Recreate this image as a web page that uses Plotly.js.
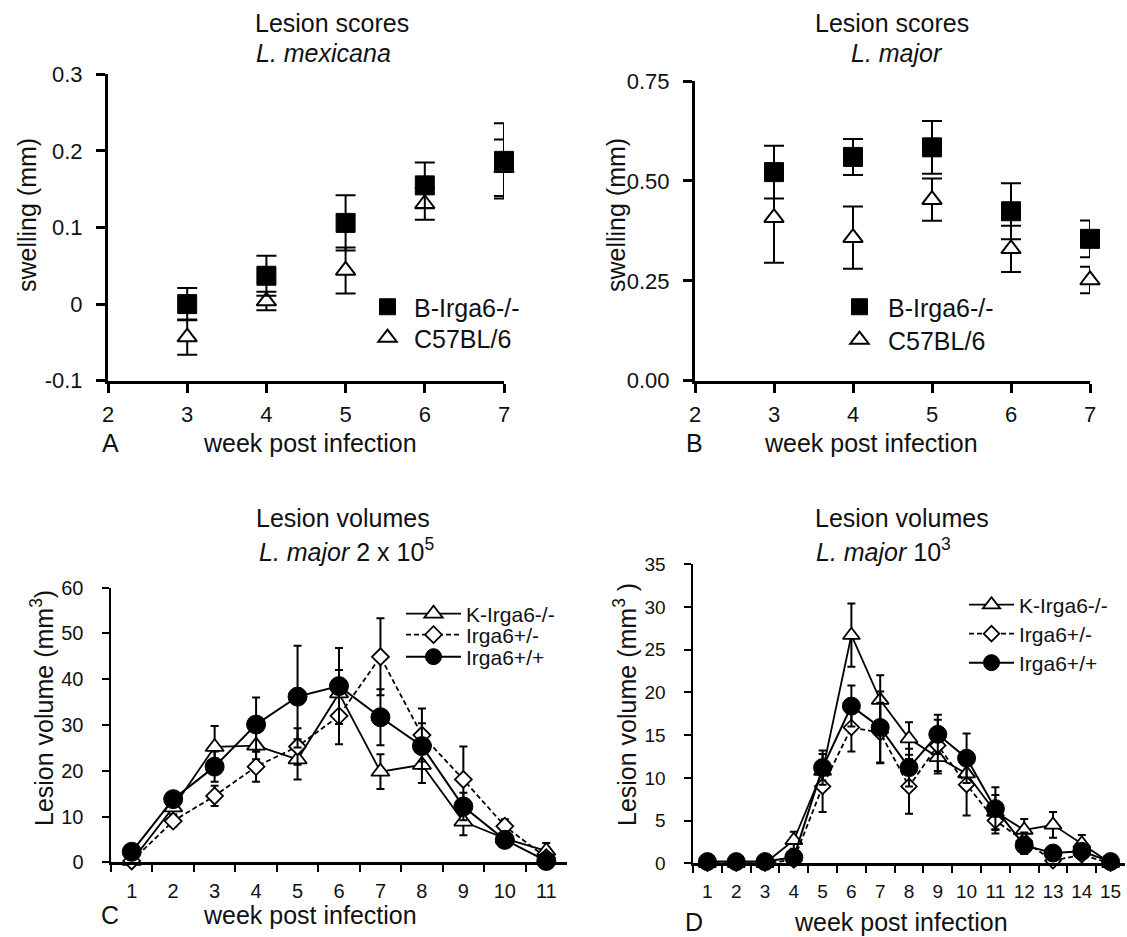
<!DOCTYPE html>
<html><head><meta charset="utf-8">
<script src="https://cdn.plot.ly/plotly-3.0.1.min.js"></script>
<style>html,body{margin:0;padding:0;background:#fff;}#chart{width:1127px;height:937px;}</style>
</head><body><div id="chart"></div>
<script>
// ---------- data ----------
const weeksAB = [3, 4, 5, 6, 7];
const mexKO = [0.000, 0.037, 0.106, 0.155, 0.187];
const mexKOerr = [0.021, 0.026, 0.036, 0.030, 0.049];
const mexWT = [-0.043, 0.004, 0.044, 0.131, 0.178];
const mexWTerr = [0.023, 0.012, 0.030, 0.021, 0.037];

const majKO = [0.522, 0.560, 0.584, 0.424, 0.355];
const majKOerr = [0.066, 0.045, 0.066, 0.070, 0.046];
const majWT = [0.408, 0.358, 0.453, 0.330, 0.252];
const majWTerr = [0.113, 0.078, 0.053, 0.058, 0.033];

const weeksC = [1, 2, 3, 4, 5, 6, 7, 8, 9, 10, 11];
const cKO = [0.3, 12.0, 25.2, 25.5, 22.5, 36.9, 19.8, 21.3, 8.9, 5.2, 2.5];
const cKOerr = [0.5, 1.5, 4.6, 3.0, 4.4, 5.1, 3.8, 4.0, 3.0, 1.2, 1.7];
const cHet = [0.3, 9.0, 14.5, 20.9, 25.3, 32.0, 44.9, 27.8, 18.1, 7.9, 1.0];
const cHetErr = [0.3, 1.2, 2.2, 3.3, 4.0, 6.2, 8.4, 5.8, 7.2, 1.5, 1.0];
const cWT = [2.3, 13.8, 20.9, 30.1, 36.2, 38.5, 31.7, 25.4, 12.2, 4.9, 0.3];
const cWTerr = [0.5, 1.0, 3.3, 5.9, 11.1, 8.3, 6.1, 5.0, 3.0, 1.5, 0.5];

const weeksD = [1, 2, 3, 4, 5, 6, 7, 8, 9, 10, 11, 12, 13, 14, 15];
const dKO = [0, 0, 0, 2.7, 10.8, 26.7, 19.1, 14.6, 12.4, 10.5, 6.0, 3.9, 4.5, 2.3, 0];
const dKOerr = [0, 0, 0, 1.0, 2.0, 3.7, 2.9, 1.9, 1.9, 1.5, 2.0, 1.3, 1.5, 1.0, 0];
const dHet = [0, 0, 0, 0.4, 9.0, 15.9, 15.3, 9.0, 13.8, 9.2, 5.0, 2.6, 0.3, 1.0, 0];
const dHetErr = [0, 0, 0, 0.3, 3.0, 2.8, 3.5, 3.2, 3.0, 3.6, 1.5, 1.0, 0.3, 0.5, 0];
const dWT = [0.2, 0.2, 0.2, 0.7, 11.2, 18.4, 15.9, 11.2, 15.1, 12.3, 6.4, 2.1, 1.2, 1.4, 0.2];
const dWTerr = [0.1, 0.1, 0.1, 0.3, 2.0, 2.4, 4.2, 2.2, 2.3, 2.9, 2.5, 1.0, 0.5, 0.6, 0.1];

const ytickA = [-0.1, 0, 0.1, 0.2, 0.3];
const ytickAtext = ['-0.1', '0', '0.1', '0.2', '0.3'];
const ytickB = [0, 0.25, 0.5, 0.75];
const ytickBtext = ['0.00', '0.25', '0.50', '0.75'];
const xtickAB = [2, 3, 4, 5, 6, 7];

// ---------- helpers ----------
const W = 1127, H = 937;
const FX = v => v / W;
const FY = v => 1 - v / H;
const FONT = 'Liberation Sans, Arial, Helvetica, sans-serif';
const INK = '#111';

function errBar(arr, w, th) {
  return {type: 'data', array: arr, visible: true, color: '#000', thickness: th, width: w};
}

const traces = [
  // Panel A
  {x: weeksAB, y: mexWT, error_y: errBar(mexWTerr, 10, 2), mode: 'markers', name: 'C57BL/6',
   marker: {symbol: 'triangle-up', size: 17, color: '#fff', line: {color: '#000', width: 2}},
   xaxis: 'x', yaxis: 'y', legend: 'legend2', cliponaxis: false},
  {x: weeksAB, y: mexKO, error_y: errBar(mexKOerr, 10, 2), mode: 'markers', name: 'B-Irga6-/-',
   marker: {symbol: 'square', size: 19, color: '#000', line: {color: '#000', width: 1}},
   xaxis: 'x', yaxis: 'y', legend: 'legend', cliponaxis: false},
  // Panel B
  {x: weeksAB, y: majWT, error_y: errBar(majWTerr, 10, 2), mode: 'markers', name: 'C57BL/6',
   marker: {symbol: 'triangle-up', size: 17, color: '#fff', line: {color: '#000', width: 2}},
   xaxis: 'x2', yaxis: 'y2', legend: 'legend4', cliponaxis: false},
  {x: weeksAB, y: majKO, error_y: errBar(majKOerr, 10, 2), mode: 'markers', name: 'B-Irga6-/-',
   marker: {symbol: 'square', size: 19, color: '#000', line: {color: '#000', width: 1}},
   xaxis: 'x2', yaxis: 'y2', legend: 'legend3', cliponaxis: false},
  // Panel C
  {x: weeksC, y: cKO, error_y: errBar(cKOerr, 4, 2), mode: 'lines+markers', name: 'K-Irga6-/-',
   line: {color: '#000', width: 1.8},
   marker: {symbol: 'triangle-up', size: 16, color: '#fff', line: {color: '#000', width: 1.8}},
   xaxis: 'x3', yaxis: 'y3', legend: 'legend5', cliponaxis: false},
  {x: weeksC, y: cHet, error_y: errBar(cHetErr, 4, 2), mode: 'lines+markers', name: 'Irga6+/-',
   line: {color: '#000', width: 1.8, dash: '5px,3px'},
   marker: {symbol: 'diamond', size: 13, color: '#fff', line: {color: '#000', width: 1.8}},
   xaxis: 'x3', yaxis: 'y3', legend: 'legend6', cliponaxis: false},
  {x: weeksC, y: cWT, error_y: errBar(cWTerr, 4, 2), mode: 'lines+markers', name: 'Irga6+/+',
   line: {color: '#000', width: 2},
   marker: {symbol: 'circle', size: 19, color: '#000', line: {color: '#000', width: 1}},
   xaxis: 'x3', yaxis: 'y3', legend: 'legend7', cliponaxis: false},
  // Panel D
  {x: weeksD, y: dKO, error_y: errBar(dKOerr, 4, 2), mode: 'lines+markers', name: 'K-Irga6-/-',
   line: {color: '#000', width: 1.8},
   marker: {symbol: 'triangle-up', size: 15, color: '#fff', line: {color: '#000', width: 1.8}},
   xaxis: 'x4', yaxis: 'y4', legend: 'legend8', cliponaxis: false},
  {x: weeksD, y: dHet, error_y: errBar(dHetErr, 4, 2), mode: 'lines+markers', name: 'Irga6+/-',
   line: {color: '#000', width: 1.8, dash: '5px,3px'},
   marker: {symbol: 'diamond', size: 12, color: '#fff', line: {color: '#000', width: 1.8}},
   xaxis: 'x4', yaxis: 'y4', legend: 'legend9', cliponaxis: false},
  {x: weeksD, y: dWT, error_y: errBar(dWTerr, 4, 2), mode: 'lines+markers', name: 'Irga6+/+',
   line: {color: '#000', width: 2},
   marker: {symbol: 'circle', size: 18, color: '#000', line: {color: '#000', width: 1}},
   xaxis: 'x4', yaxis: 'y4', legend: 'legend10', cliponaxis: false}
];

function axisBase(fs, lw, tw, tl) {
  return {showline: true, linecolor: '#000', linewidth: lw, ticks: 'outside', tickcolor: '#000',
    tickwidth: tw, ticklen: tl, showgrid: false, zeroline: false, fixedrange: true,
    tickangle: 0, tickfont: {family: FONT, size: fs, color: INK}};
}

function leg(left, cy, iw, fs) {
  return {x: FX(left), y: FY(cy), xanchor: 'left', yanchor: 'middle', bgcolor: 'rgba(0,0,0,0)',
    borderwidth: 0, itemwidth: iw, font: {family: FONT, size: fs, color: INK}, itemclick: false};
}

function ann(text, cx, cy, fs, extra) {
  return Object.assign({text: text, x: FX(cx), y: FY(cy), xref: 'paper', yref: 'paper',
    xanchor: 'center', yanchor: 'middle', showarrow: false,
    font: {family: FONT, size: fs, color: INK}}, extra || {});
}

const layout = {
  width: W, height: H, margin: {l: 0, r: 0, t: 0, b: 0},
  paper_bgcolor: '#fff', plot_bgcolor: '#fff', showlegend: true,
  xaxis: Object.assign(axisBase(22, 3, 3, 9), {domain: [FX(108), FX(504)], range: [2, 7],
    tickvals: xtickAB, anchor: 'y', ticklabelstandoff: 3}),
  yaxis: Object.assign(axisBase(22, 3, 3, 9), {domain: [FY(380.7), FY(74.3)], range: [-0.1, 0.3],
    tickvals: ytickA, ticktext: ytickAtext, anchor: 'x', ticklabelstandoff: 9}),
  xaxis2: Object.assign(axisBase(22, 3, 3, 9), {domain: [FX(695), FX(1090)], range: [2, 7],
    tickvals: xtickAB, anchor: 'y2', ticklabelstandoff: 3}),
  yaxis2: Object.assign(axisBase(22, 3, 3, 9), {domain: [FY(380.7), FY(81)], range: [0, 0.75],
    tickvals: ytickB, ticktext: ytickBtext, anchor: 'x2', ticklabelstandoff: 9}),
  xaxis3: Object.assign(axisBase(20, 2.5, 2, 7), {domain: [FX(111), FX(567)], type: 'category',
    range: [-0.5, 10.5], tickson: 'boundaries', anchor: 'y3', ticklabelstandoff: 9}),
  yaxis3: Object.assign(axisBase(20, 2.5, 2, 7), {domain: [FY(862.3), FY(587.7)], range: [0, 60],
    dtick: 10, tick0: 0, anchor: 'x3', ticklabelstandoff: 14}),
  xaxis4: Object.assign(axisBase(19, 2.5, 2, 7), {domain: [FX(693), FX(1125)], type: 'category',
    range: [-0.5, 14.5], tickson: 'boundaries', anchor: 'y4', ticklabelstandoff: 9}),
  yaxis4: Object.assign(axisBase(19, 2.5, 2, 7), {domain: [FY(863.3), FY(564.3)], range: [0, 35],
    dtick: 5, tick0: 0, anchor: 'x4', ticklabelstandoff: 14}),
  legend: leg(361, 307, 43, 25),
  legend2: leg(361, 338, 43, 25),
  legend3: leg(831, 307, 47, 25),
  legend4: leg(831, 340, 47, 25),
  legend5: leg(401, 614, 55, 21),
  legend6: leg(401, 635, 55, 21),
  legend7: leg(401, 657, 55, 21),
  legend8: leg(964, 605, 45, 21),
  legend9: leg(964, 634, 45, 21),
  legend10: leg(964, 663, 45, 21),
  annotations: [
    ann('Lesion scores', 332, 23, 25),
    ann('<i>L. mexicana</i>', 323, 53, 25),
    ann('Lesion scores', 892, 23, 25),
    ann('<i>L. major</i>', 897, 53, 25),
    ann('Lesion volumes', 343, 518, 25),
    ann('<i>L. major</i> 2 x 10<sup>5</sup>', 346, 550, 25),
    ann('Lesion volumes', 902, 518, 25),
    ann('<i>L. major</i> 10<sup>3</sup>', 883, 550, 25),
    ann('swelling (mm)', 27, 215, 25, {textangle: -90}),
    ann('swelling (mm)', 616, 215, 25, {textangle: -90}),
    ann('Lesion volume (mm<sup>3</sup>)', 42, 708, 25, {textangle: -90}),
    ann('Lesion volume (mm<sup>3</sup> )', 625, 705, 25, {textangle: -90}),
    ann('week post infection', 310, 443, 25),
    ann('week post infection', 871, 443, 25),
    ann('week post infection', 310, 915, 25),
    ann('week post infection', 901, 922, 25),
    ann('A', 110, 443, 25),
    ann('B', 694, 443, 25),
    ann('C', 110, 915, 25),
    ann('D', 694, 922, 25)
  ]
};

Plotly.newPlot('chart', traces, layout, {displayModeBar: false, staticPlot: true});
</script>
</body></html>
